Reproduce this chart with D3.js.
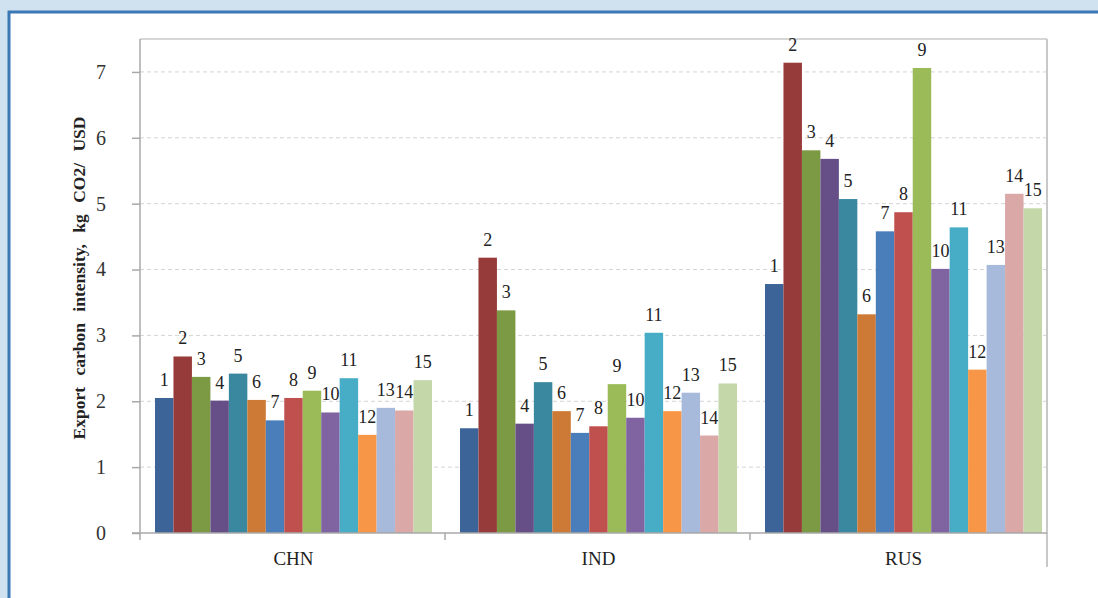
<!DOCTYPE html>
<html>
<head>
<meta charset="utf-8">
<script src="https://cdn.jsdelivr.net/npm/d3@7/dist/d3.min.js"></script>
<style>
  html, body { margin: 0; padding: 0; background: #d0e2f0; }
  svg { display: block; }
</style>
</head>
<body>
<svg id="chart" width="1098" height="598"></svg>
<script>
const countries = ["CHN", "IND", "RUS"];
const seriesLabels = ["1","2","3","4","5","6","7","8","9","10","11","12","13","14","15"];
const valuesCHN = [2.05, 2.68, 2.37, 2.01, 2.42, 2.02, 1.71, 2.05, 2.16, 1.83, 2.35, 1.49, 1.90, 1.86, 2.32];
const valuesIND = [1.59, 4.18, 3.38, 1.66, 2.29, 1.85, 1.52, 1.62, 2.26, 1.75, 3.04, 1.85, 2.13, 1.48, 2.27];
const valuesRUS = [3.78, 7.14, 5.81, 5.68, 5.07, 3.32, 4.58, 4.87, 7.06, 4.01, 4.64, 2.48, 4.07, 5.15, 4.93];
const yTicks = [0, 1, 2, 3, 4, 5, 6, 7];
const colors = ["#3c6499","#973b3a","#7c9a43","#654f86","#3a889f","#cc7a35","#4a7ebb","#c0504d",
                "#9bbb59","#8064a2","#47adc6","#f79646","#a8badb","#d9a8a7","#c4d7a9"];

const valuesByCountry = { CHN: valuesCHN, IND: valuesIND, RUS: valuesRUS };

const svg = d3.select("#chart");
const font = "'Liberation Serif', 'Times New Roman', serif";

// outer frame
svg.append("rect").attr("x", 0).attr("y", 0).attr("width", 1098).attr("height", 598).attr("fill", "#d0e2f0");
svg.append("rect").attr("x", 9).attr("y", 12).attr("width", 1100).attr("height", 600)
  .attr("fill", "#ffffff").attr("stroke", "#3b78b5").attr("stroke-width", 3);

const plotLeft = 140, plotRight = 1047, plotTop = 39, zeroY = 533;

const x0 = d3.scaleBand().domain(countries).range([plotLeft, plotLeft + 915]).padding(0);
const x1 = d3.scaleBand().domain(seriesLabels).range([15, 292]).padding(0);
const y = d3.scaleLinear().domain([0, 7.5]).range([zeroY, plotTop]);

// gridlines
svg.append("g").selectAll("line").data(yTicks.filter(d => d > 0)).join("line")
  .attr("x1", plotLeft).attr("x2", plotRight)
  .attr("y1", d => y(d)).attr("y2", d => y(d))
  .attr("stroke", "#d4d4d4").attr("stroke-width", 1).attr("stroke-dasharray", "4,3");

// plot box top & right
svg.append("line").attr("x1", plotLeft).attr("x2", plotRight).attr("y1", plotTop).attr("y2", plotTop)
  .attr("stroke", "#c8c8c8").attr("stroke-width", 1.5);
svg.append("line").attr("x1", plotRight).attr("x2", plotRight).attr("y1", plotTop).attr("y2", 567)
  .attr("stroke", "#c8c8c8").attr("stroke-width", 2);

// bars
const groups = svg.append("g").selectAll("g").data(countries).join("g")
  .attr("transform", d => `translate(${x0(d)},0)`);

groups.selectAll("rect").data(c => valuesByCountry[c].map((v, i) => ({ v, s: seriesLabels[i], i })))
  .join("rect")
  .attr("x", d => x1(d.s))
  .attr("width", x1.bandwidth())
  .attr("y", d => y(d.v))
  .attr("height", d => zeroY - y(d.v))
  .attr("fill", d => colors[d.i]);

groups.selectAll("text").data(c => valuesByCountry[c].map((v, i) => ({ v, s: seriesLabels[i] })))
  .join("text")
  .attr("x", d => x1(d.s) + x1.bandwidth() / 2)
  .attr("y", d => y(d.v) - 12)
  .attr("text-anchor", "middle")
  .attr("font-family", font).attr("font-size", 18).attr("fill", "#222")
  .text(d => d.s);

// y axis
const yAxis = svg.append("g").attr("transform", `translate(${plotLeft},0)`)
  .call(d3.axisLeft(y).tickValues(yTicks).tickSize(8).tickPadding(26).tickFormat(d3.format("d")));
yAxis.select(".domain").attr("d", `M0,${plotTop}V${zeroY}`).attr("stroke", "#a8a8a8").attr("stroke-width", 1.5);
yAxis.selectAll(".tick line").attr("stroke", "#a8a8a8").attr("stroke-width", 1.5);
yAxis.selectAll(".tick text").attr("font-family", font).attr("font-size", 20).attr("fill", "#333");

// x axis
const xAxisG = svg.append("g");
xAxisG.append("line").attr("x1", plotLeft - 8).attr("x2", plotRight).attr("y1", zeroY).attr("y2", zeroY)
  .attr("stroke", "#a8a8a8").attr("stroke-width", 1.5);
xAxisG.selectAll("line.sep").data(countries).join("line").attr("class", "sep")
  .attr("x1", d => x0(d)).attr("x2", d => x0(d))
  .attr("y1", zeroY).attr("y2", zeroY + 7)
  .attr("stroke", "#a8a8a8").attr("stroke-width", 1.5);
xAxisG.selectAll("text").data(countries).join("text")
  .attr("x", d => x0(d) + x1(seriesLabels[0]) + (x1.range()[1] - x1.range()[0]) / 2)
  .attr("y", 565)
  .attr("text-anchor", "middle")
  .attr("font-family", font).attr("font-size", 19).attr("fill", "#222")
  .text(d => d);

// y title
svg.append("text")
  .attr("transform", "translate(85,278) rotate(-90)")
  .attr("text-anchor", "middle")
  .attr("font-family", font).attr("font-size", 17.5).attr("font-weight", "bold").attr("fill", "#222")
  .attr("word-spacing", 7)
  .text("Export carbon intensity, kg CO2/ USD");
</script>
</body>
</html>
